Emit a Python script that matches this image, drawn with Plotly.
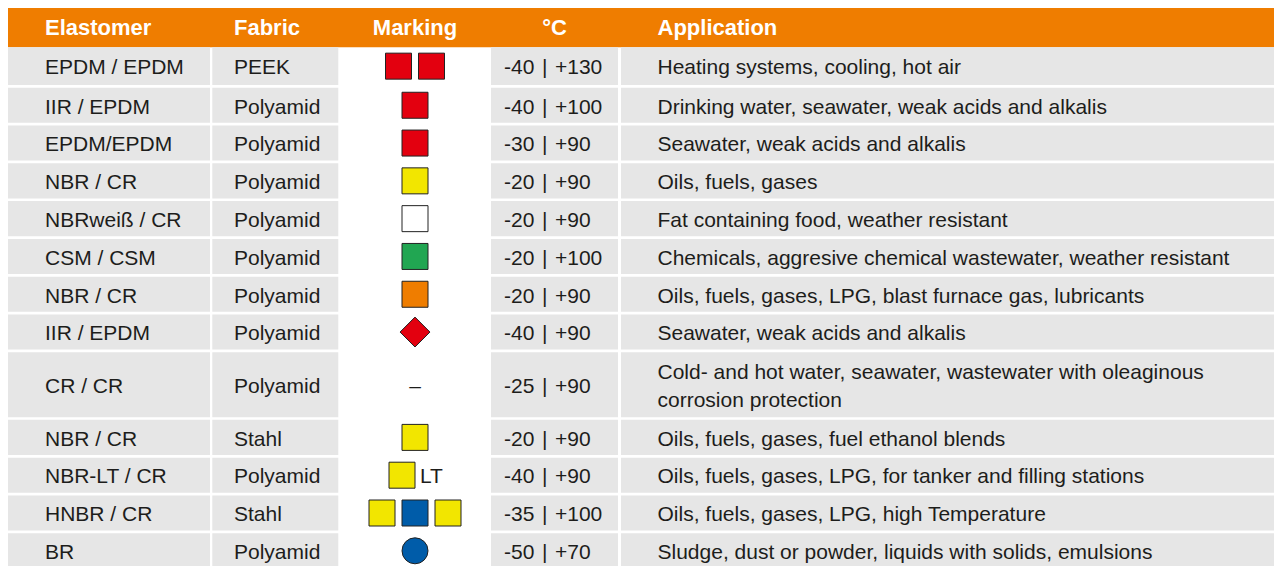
import plotly.graph_objects as go

# ---------------- data ----------------
headers = ["Elastomer", "Fabric", "Marking", "°C", "Application"]
elastomer = ["EPDM / EPDM", "IIR / EPDM", "EPDM/EPDM", "NBR / CR", "NBRweiß / CR", "CSM / CSM",
             "NBR / CR", "IIR / EPDM", "CR / CR", "NBR / CR", "NBR-LT / CR", "HNBR / CR", "BR"]
fabric = ["PEEK", "Polyamid", "Polyamid", "Polyamid", "Polyamid", "Polyamid", "Polyamid",
          "Polyamid", "Polyamid", "Stahl", "Polyamid", "Stahl", "Polyamid"]
temp_min = [-40, -40, -30, -20, -20, -20, -20, -40, -25, -20, -40, -35, -50]
temp_max = [130, 100, 90, 90, 90, 100, 90, 90, 90, 90, 90, 100, 70]
application = [
    "Heating systems, cooling, hot air",
    "Drinking water, seawater, weak acids and alkalis",
    "Seawater, weak acids and alkalis",
    "Oils, fuels, gases",
    "Fat containing food, weather resistant",
    "Chemicals, aggresive chemical wastewater, weather resistant",
    "Oils, fuels, gases, LPG, blast furnace gas, lubricants",
    "Seawater, weak acids and alkalis",
    "Cold- and hot water, seawater, wastewater with oleaginous<br>corrosion protection",
    "Oils, fuels, gases, fuel ethanol blends",
    "Oils, fuels, gases, LPG, for tanker and filling stations",
    "Oils, fuels, gases, LPG, high Temperature",
    "Sludge, dust or powder, liquids with solids, emulsions",
]
marking_colors = [["red", "red"], ["red"], ["red"], ["yellow"], ["white"], ["green"], ["orange"],
                  ["red"], [], ["yellow"], ["yellow"], ["yellow", "blue", "yellow"], ["blue"]]
marking_symbol = ["square", "square", "square", "square", "square", "square", "square",
                  "diamond", "", "square", "square", "square", "circle"]
marking_label = ["", "", "", "", "", "", "", "", "–", "", "LT", "", ""]

# ---------------- styles / layout ----------------
PAGE_OFF = 8  # page body margin
W, H = 1282, 566 - PAGE_OFF
ORANGE = "#EF7D00"
GRAY = "#E6E6E6"
TXT = "#1d1d1b"
palette = {"red": "#E3000F", "yellow": "#F2E600", "white": "#FFFFFF", "green": "#21A652",
           "orange": "#EF7D00", "blue": "#005CA9"}
FONT = "Liberation Sans, Arial, sans-serif"

col_left = [7, 212.3, 338, 491, 621]
col_right = [210, 338.3, 491, 618, 1300]
text_x = [45, 234, 415, 504, 657.5]
header_x = [45, 234, 415, 554.5, 657.5]
header_pos = ["middle right", "middle right", "middle center", "middle center", "middle right"]
filled = [True, True, False, True, True]

header_top, header_bot = 6, 47.3
first_h, cell_h, line_extra, gap = 37.7, 35.1, 29.75, 2.7
mark_step = 33
text_dy = 3

# row geometry derived from number of text lines
tops, bots = [], []
y = header_bot
for i, app in enumerate(application):
    n = app.count("<br>") + 1
    h = (first_h if i == 0 else cell_h) + line_extra * (n - 1)
    if i > 0:
        y += gap
    tops.append(y)
    bots.append(y + h)
    y += h
mids = [(t + b) / 2 for t, b in zip(tops, bots)]
tmids = [m + text_dy for m in mids]

shapes = [dict(type="rect", xref="x", yref="y", x0=col_left[0], x1=col_right[-1],
               y0=header_top, y1=header_bot, fillcolor=ORANGE, line_width=0, layer="below")]
for t, b in zip(tops, bots):
    for c in range(5):
        if filled[c]:
            shapes.append(dict(type="rect", xref="x", yref="y", x0=col_left[c], x1=col_right[c],
                               y0=t, y1=b, fillcolor=GRAY, line_width=0, layer="below"))

fig = go.Figure()

# header text
fig.add_trace(go.Scatter(
    x=header_x, y=[(header_top + header_bot) / 2 + text_dy] * 5, mode="text",
    text=["<b>%s</b>" % h for h in headers], textposition=header_pos,
    textfont=dict(family=FONT, size=22, color="white"), hoverinfo="skip", showlegend=False))

temps = ["%d \u200a|\u200a +%d" % (a, b) for a, b in zip(temp_min, temp_max)]
for c, vals in [(0, elastomer), (1, fabric), (3, temps), (4, application)]:
    fig.add_trace(go.Scatter(
        x=[text_x[c]] * len(vals), y=tmids, mode="text", text=vals, textposition="middle right",
        textfont=dict(family=FONT, size=21, color=TXT), hoverinfo="skip", showlegend=False))

# markings
mx, my, mc, ms, msz = [], [], [], [], []
lx, ly, lt, lp = [], [], [], []
for i, cols in enumerate(marking_colors):
    center = text_x[2]
    if cols and marking_label[i]:
        center = text_x[2] - 13
    k = len(cols)
    for j, col in enumerate(cols):
        mx.append(center + (j - (k - 1) / 2) * mark_step)
        my.append(mids[i])
        mc.append(palette[col])
        ms.append(marking_symbol[i])
        msz.append(23 if marking_symbol[i] == "diamond" else 26)
    if marking_label[i]:
        if cols:
            lx.append(center + 18); lp.append("middle right")
        else:
            lx.append(center); lp.append("middle center")
        ly.append(tmids[i]); lt.append(marking_label[i])

fig.add_trace(go.Scatter(
    x=mx, y=my, mode="markers",
    marker=dict(symbol=ms, size=msz, color=mc, opacity=1, line=dict(color="#222222", width=1)),
    hoverinfo="skip", showlegend=False))
fig.add_trace(go.Scatter(
    x=lx, y=ly, mode="text", text=lt, textposition=lp,
    textfont=dict(family=FONT, size=21, color=TXT), hoverinfo="skip", showlegend=False))

fig.update_layout(
    width=W, height=H, autosize=False, margin=dict(l=0, r=0, t=0, b=0),
    paper_bgcolor="white", plot_bgcolor="white", shapes=shapes,
    xaxis=dict(range=[PAGE_OFF, W + PAGE_OFF], visible=False, fixedrange=True),
    yaxis=dict(range=[H + PAGE_OFF, PAGE_OFF], visible=False, fixedrange=True),
)
fig.write_html("out.html")
